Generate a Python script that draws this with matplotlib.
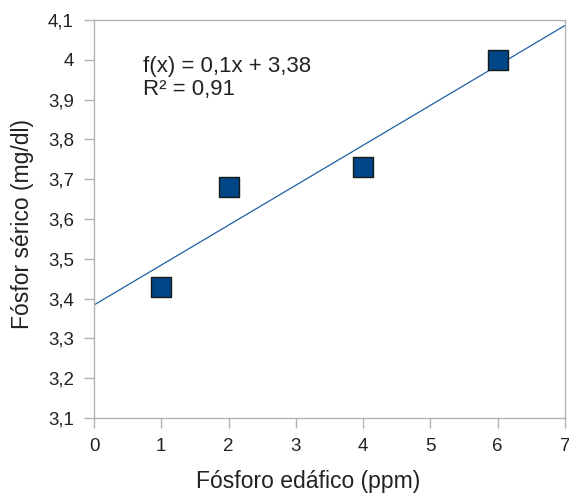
import numpy as np
import matplotlib
matplotlib.use("Agg")
import matplotlib.pyplot as plt

# Data
x_vals = [1, 2, 4, 6]
y_vals = [3.43, 3.68, 3.73, 4.00]
x_ticks = [0, 1, 2, 3, 4, 5, 6, 7]
y_ticks = [3.1, 3.2, 3.3, 3.4, 3.5, 3.6, 3.7, 3.8, 3.9, 4.0, 4.1]
y_tick_labels = ["3,1", "3,2", "3,3", "3,4", "3,5", "3,6", "3,7", "3,8", "3,9", "4", "4,1"]
x_label = "Fósforo edáfico (ppm)"
y_label = "Fósfor sérico (mg/dl)"
eq_text = "f(x) = 0,1x + 3,38"
r2_text = "R² = 0,91"

plt.rcParams['font.family'] = ['Liberation Sans', 'DejaVu Sans']

fig = plt.figure(figsize=(5.69, 4.93), dpi=100)
ax = fig.add_axes([94/569, 75/493, 471/569, 398/493])

slope, intercept = np.polyfit(x_vals, y_vals, 1)
xl = np.array([0, 7])
ax.plot(xl, slope * xl + intercept, color='#1f5fa6', lw=0.9, zorder=2)
ax.scatter(x_vals, y_vals, marker='s', s=190, color='#004586',
           edgecolors='#1a1a1a', linewidths=1.0, zorder=3)

ax.set_xlim(0, 7)
ax.set_ylim(3.1, 4.1)
ax.set_xticks(x_ticks)
ax.set_xticklabels([str(t) for t in x_ticks])
ax.set_yticks(y_ticks)
ax.set_yticklabels(y_tick_labels)

grey = '#b3b3b3'
for s in ax.spines.values():
    s.set_color(grey)
    s.set_linewidth(1.0)
ax.tick_params(axis='both', colors=grey, length=7.5, width=1.0, labelcolor='#222222',
               labelsize=13.5, pad=7)

ax.set_xlabel(x_label, fontsize=16.5, color='#222222')
ax.set_ylabel(y_label, fontsize=16.5, color='#222222')
ax.xaxis.set_label_coords((308 - 94) / 471, -(470 - 418) / 398)
ax.xaxis.label.set_va('top')
ax.xaxis.label.set_ha('center')
ax.yaxis.set_label_coords(-(94 - 34) / 471, (418 - 224) / 398)
ax.yaxis.label.set_ha('center')
ax.yaxis.label.set_va('bottom')

ax.text(0.103, 1 - (72 - 20) / 398, eq_text, transform=ax.transAxes, fontsize=16,
        color='#222222', va='baseline', ha='left')
ax.text(0.103, 1 - (94.5 - 20) / 398, r2_text, transform=ax.transAxes, fontsize=16,
        color='#222222', va='baseline', ha='left')

fig.savefig("out.png", dpi=100)
